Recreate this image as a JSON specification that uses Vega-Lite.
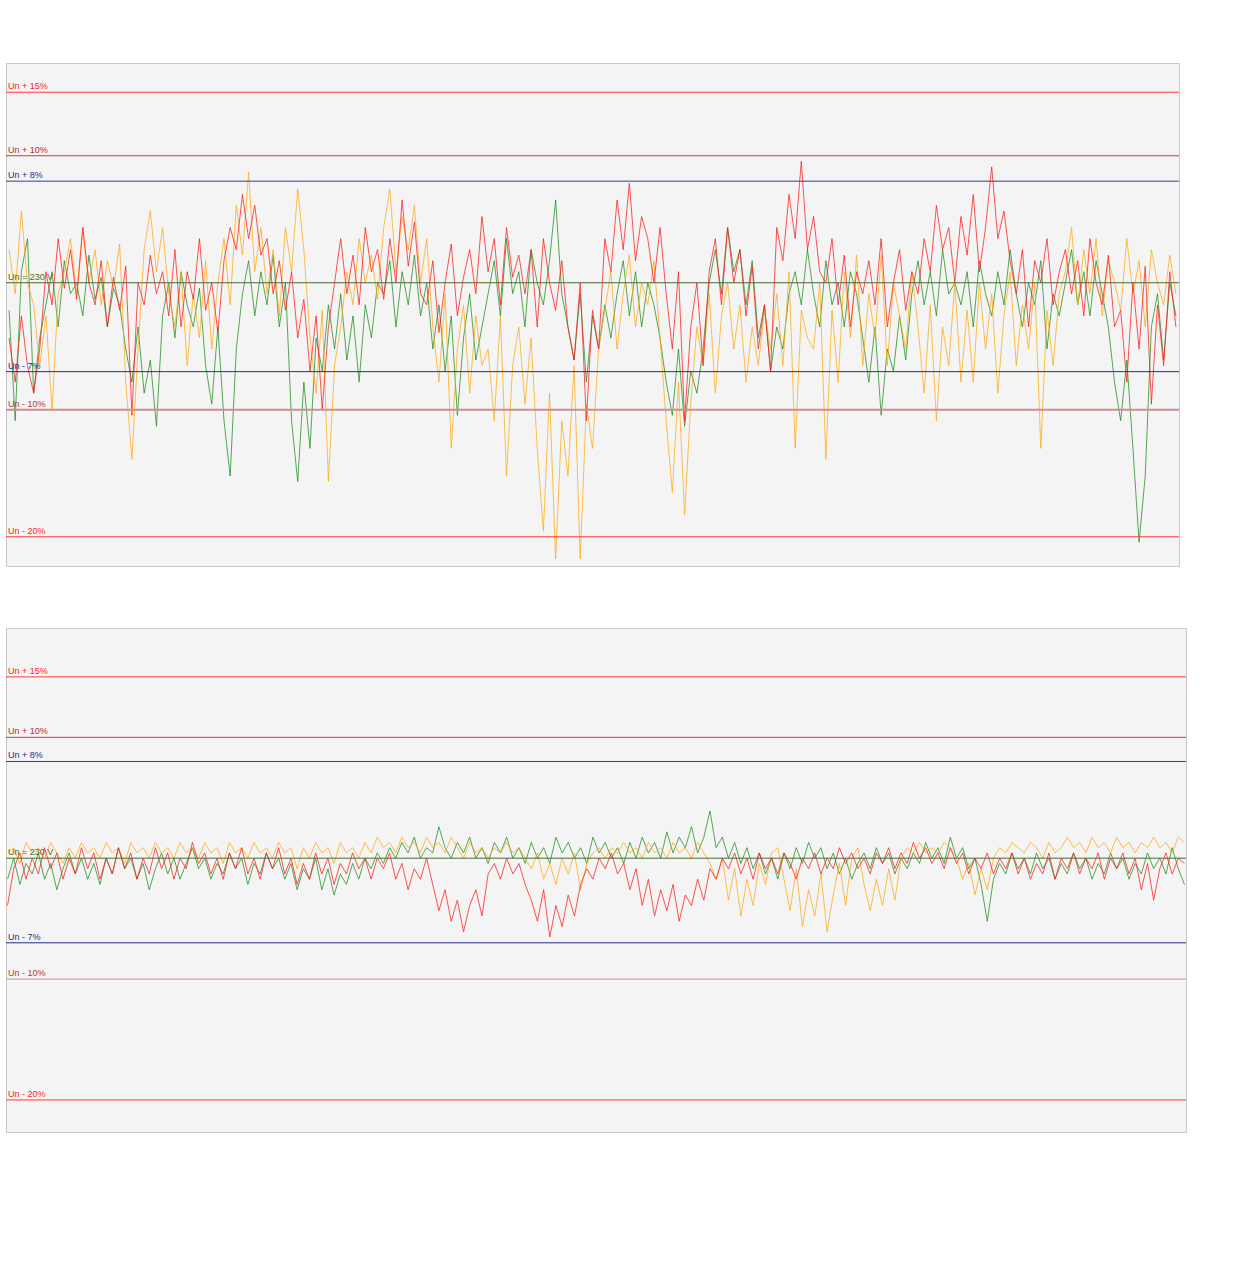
{
"$schema":"https://vega.github.io/schema/vega-lite/v6.json",
"background":"white",
"padding":{"left":4,"top":62,"right":10,"bottom":5},
"spacing":60,
"config":{"view":{"stroke":"#c8c8c8","fill":"#f4f4f4"},"font":"Liberation Sans","axis":{"labelOverlap":false,"labelFontSize":9,"labelFont":"Liberation Sans"}},
"datasets":{
"refs":[{"label":"Un + 15%","v":264.5},{"label":"Un + 10%","v":253},{"label":"Un + 8%","v":248.4},{"label":"Un = 230 V","v":230},{"label":"Un - 7%","v":213.9},{"label":"Un - 10%","v":207},{"label":"Un - 20%","v":184}],
"top":[
{"t":"2015-05-11T21:00Z","g":225,"o":236,"r":220},{"t":"2015-05-11T22:00Z","g":205,"o":228,"r":212},{"t":"2015-05-11T23:00Z","g":232,"o":243,"r":224},
{"t":"2015-05-12T00:00Z","g":238,"o":230,"r":215},{"t":"2015-05-12T01:00Z","g":210,"o":226,"r":210},{"t":"2015-05-12T02:00Z","g":220,"o":215,"r":218},{"t":"2015-05-12T03:00Z","g":226,"o":224,"r":232},{"t":"2015-05-12T04:00Z","g":232,"o":207,"r":226},{"t":"2015-05-12T05:00Z","g":222,"o":228,"r":238},{"t":"2015-05-12T06:00Z","g":234,"o":232,"r":229},{"t":"2015-05-12T07:00Z","g":228,"o":238,"r":236},{"t":"2015-05-12T08:00Z","g":230,"o":228,"r":227},{"t":"2015-05-12T09:00Z","g":224,"o":240,"r":240},{"t":"2015-05-12T10:00Z","g":235,"o":230,"r":230},{"t":"2015-05-12T11:00Z","g":227,"o":236,"r":226},{"t":"2015-05-12T12:00Z","g":231,"o":226,"r":234},{"t":"2015-05-12T13:00Z","g":222,"o":234,"r":222},{"t":"2015-05-12T14:00Z","g":229,"o":229,"r":231},{"t":"2015-05-12T15:00Z","g":226,"o":237,"r":225},{"t":"2015-05-12T16:00Z","g":218,"o":212,"r":233},{"t":"2015-05-12T17:00Z","g":212,"o":198,"r":206},{"t":"2015-05-12T18:00Z","g":222,"o":218,"r":230},{"t":"2015-05-12T19:00Z","g":210,"o":236,"r":226},{"t":"2015-05-12T20:00Z","g":216,"o":243,"r":235},{"t":"2015-05-12T21:00Z","g":204,"o":232,"r":228},{"t":"2015-05-12T22:00Z","g":224,"o":240,"r":232},{"t":"2015-05-12T23:00Z","g":230,"o":228,"r":224},
{"t":"2015-05-13T00:00Z","g":220,"o":222,"r":236},{"t":"2015-05-13T01:00Z","g":232,"o":232,"r":222},{"t":"2015-05-13T02:00Z","g":226,"o":215,"r":232},{"t":"2015-05-13T03:00Z","g":222,"o":228,"r":227},{"t":"2015-05-13T04:00Z","g":229,"o":220,"r":238},{"t":"2015-05-13T05:00Z","g":215,"o":234,"r":225},{"t":"2015-05-13T06:00Z","g":208,"o":218,"r":230},{"t":"2015-05-13T07:00Z","g":222,"o":230,"r":221},{"t":"2015-05-13T08:00Z","g":205,"o":238,"r":234},{"t":"2015-05-13T09:00Z","g":195,"o":226,"r":240},{"t":"2015-05-13T10:00Z","g":218,"o":244,"r":236},{"t":"2015-05-13T11:00Z","g":228,"o":235,"r":246},{"t":"2015-05-13T12:00Z","g":234,"o":250,"r":238},{"t":"2015-05-13T13:00Z","g":224,"o":232,"r":244},{"t":"2015-05-13T14:00Z","g":232,"o":240,"r":235},{"t":"2015-05-13T15:00Z","g":226,"o":228,"r":238},{"t":"2015-05-13T16:00Z","g":235,"o":236,"r":228},{"t":"2015-05-13T17:00Z","g":222,"o":224,"r":234},{"t":"2015-05-13T18:00Z","g":230,"o":240,"r":225},{"t":"2015-05-13T19:00Z","g":205,"o":232,"r":232},{"t":"2015-05-13T20:00Z","g":194,"o":247,"r":220},{"t":"2015-05-13T21:00Z","g":212,"o":236,"r":227},{"t":"2015-05-13T22:00Z","g":200,"o":220,"r":214},{"t":"2015-05-13T23:00Z","g":220,"o":210,"r":224},
{"t":"2015-05-14T00:00Z","g":214,"o":225,"r":207},{"t":"2015-05-14T01:00Z","g":226,"o":194,"r":222},{"t":"2015-05-14T02:00Z","g":218,"o":215,"r":230},{"t":"2015-05-14T03:00Z","g":228,"o":222,"r":238},{"t":"2015-05-14T04:00Z","g":216,"o":232,"r":228},{"t":"2015-05-14T05:00Z","g":224,"o":226,"r":235},{"t":"2015-05-14T06:00Z","g":212,"o":238,"r":226},{"t":"2015-05-14T07:00Z","g":226,"o":230,"r":240},{"t":"2015-05-14T08:00Z","g":220,"o":235,"r":232},{"t":"2015-05-14T09:00Z","g":230,"o":227,"r":236},{"t":"2015-05-14T10:00Z","g":228,"o":240,"r":227},{"t":"2015-05-14T11:00Z","g":234,"o":247,"r":238},{"t":"2015-05-14T12:00Z","g":222,"o":232,"r":230},{"t":"2015-05-14T13:00Z","g":232,"o":242,"r":245},{"t":"2015-05-14T14:00Z","g":226,"o":236,"r":233},{"t":"2015-05-14T15:00Z","g":235,"o":244,"r":241},{"t":"2015-05-14T16:00Z","g":224,"o":230,"r":228},{"t":"2015-05-14T17:00Z","g":230,"o":238,"r":226},{"t":"2015-05-14T18:00Z","g":218,"o":222,"r":234},{"t":"2015-05-14T19:00Z","g":226,"o":212,"r":221},{"t":"2015-05-14T20:00Z","g":214,"o":228,"r":230},{"t":"2015-05-14T21:00Z","g":224,"o":200,"r":237},{"t":"2015-05-14T22:00Z","g":206,"o":218,"r":224},{"t":"2015-05-14T23:00Z","g":220,"o":226,"r":231},
{"t":"2015-05-15T00:00Z","g":228,"o":210,"r":236},{"t":"2015-05-15T01:00Z","g":216,"o":224,"r":228},{"t":"2015-05-15T02:00Z","g":222,"o":215,"r":242},{"t":"2015-05-15T03:00Z","g":228,"o":218,"r":232},{"t":"2015-05-15T04:00Z","g":234,"o":205,"r":238},{"t":"2015-05-15T05:00Z","g":224,"o":224,"r":226},{"t":"2015-05-15T06:00Z","g":238,"o":195,"r":240},{"t":"2015-05-15T07:00Z","g":228,"o":215,"r":231},{"t":"2015-05-15T08:00Z","g":232,"o":222,"r":235},{"t":"2015-05-15T09:00Z","g":222,"o":208,"r":228},{"t":"2015-05-15T10:00Z","g":236,"o":220,"r":236},{"t":"2015-05-15T11:00Z","g":230,"o":200,"r":222},{"t":"2015-05-15T12:00Z","g":226,"o":185,"r":238},{"t":"2015-05-15T13:00Z","g":234,"o":210,"r":230},{"t":"2015-05-15T14:00Z","g":245,"o":180,"r":225},{"t":"2015-05-15T15:00Z","g":228,"o":205,"r":234},{"t":"2015-05-15T16:00Z","g":222,"o":195,"r":222},{"t":"2015-05-15T17:00Z","g":216,"o":215,"r":216},{"t":"2015-05-15T18:00Z","g":228,"o":180,"r":230},{"t":"2015-05-15T19:00Z","g":212,"o":208,"r":205},{"t":"2015-05-15T20:00Z","g":224,"o":200,"r":225},{"t":"2015-05-15T21:00Z","g":218,"o":218,"r":218},{"t":"2015-05-15T22:00Z","g":226,"o":225,"r":238},{"t":"2015-05-15T23:00Z","g":220,"o":232,"r":232},
{"t":"2015-05-16T00:00Z","g":228,"o":218,"r":245},{"t":"2015-05-16T01:00Z","g":234,"o":228,"r":236},{"t":"2015-05-16T02:00Z","g":224,"o":235,"r":248},{"t":"2015-05-16T03:00Z","g":232,"o":222,"r":234},{"t":"2015-05-16T04:00Z","g":222,"o":230,"r":242},{"t":"2015-05-16T05:00Z","g":230,"o":226,"r":238},{"t":"2015-05-16T06:00Z","g":226,"o":234,"r":230},{"t":"2015-05-16T07:00Z","g":220,"o":220,"r":240},{"t":"2015-05-16T08:00Z","g":212,"o":205,"r":228},{"t":"2015-05-16T09:00Z","g":206,"o":192,"r":218},{"t":"2015-05-16T10:00Z","g":218,"o":212,"r":232},{"t":"2015-05-16T11:00Z","g":204,"o":188,"r":205},{"t":"2015-05-16T12:00Z","g":214,"o":208,"r":222},{"t":"2015-05-16T13:00Z","g":210,"o":222,"r":230},{"t":"2015-05-16T14:00Z","g":218,"o":215,"r":215},{"t":"2015-05-16T15:00Z","g":230,"o":228,"r":232},{"t":"2015-05-16T16:00Z","g":236,"o":210,"r":238},{"t":"2015-05-16T17:00Z","g":228,"o":224,"r":226},{"t":"2015-05-16T18:00Z","g":240,"o":230,"r":240},{"t":"2015-05-16T19:00Z","g":232,"o":218,"r":230},{"t":"2015-05-16T20:00Z","g":236,"o":226,"r":236},{"t":"2015-05-16T21:00Z","g":226,"o":212,"r":224},{"t":"2015-05-16T22:00Z","g":234,"o":222,"r":233},{"t":"2015-05-16T23:00Z","g":220,"o":215,"r":218},
{"t":"2015-05-17T00:00Z","g":226,"o":225,"r":226},{"t":"2015-05-17T01:00Z","g":214,"o":218,"r":214},{"t":"2015-05-17T02:00Z","g":222,"o":228,"r":240},{"t":"2015-05-17T03:00Z","g":218,"o":215,"r":234},{"t":"2015-05-17T04:00Z","g":228,"o":232,"r":246},{"t":"2015-05-17T05:00Z","g":232,"o":200,"r":238},{"t":"2015-05-17T06:00Z","g":226,"o":225,"r":252},{"t":"2015-05-17T07:00Z","g":236,"o":220,"r":236},{"t":"2015-05-17T08:00Z","g":228,"o":218,"r":242},{"t":"2015-05-17T09:00Z","g":222,"o":230,"r":232},{"t":"2015-05-17T10:00Z","g":234,"o":198,"r":230},{"t":"2015-05-17T11:00Z","g":226,"o":225,"r":238},{"t":"2015-05-17T12:00Z","g":230,"o":212,"r":226},{"t":"2015-05-17T13:00Z","g":222,"o":232,"r":235},{"t":"2015-05-17T14:00Z","g":232,"o":220,"r":222},{"t":"2015-05-17T15:00Z","g":228,"o":235,"r":232},{"t":"2015-05-17T16:00Z","g":220,"o":215,"r":228},{"t":"2015-05-17T17:00Z","g":212,"o":228,"r":234},{"t":"2015-05-17T18:00Z","g":222,"o":220,"r":226},{"t":"2015-05-17T19:00Z","g":206,"o":235,"r":238},{"t":"2015-05-17T20:00Z","g":218,"o":215,"r":222},{"t":"2015-05-17T21:00Z","g":214,"o":230,"r":230},{"t":"2015-05-17T22:00Z","g":224,"o":224,"r":236},{"t":"2015-05-17T23:00Z","g":216,"o":218,"r":225},
{"t":"2015-05-18T00:00Z","g":228,"o":232,"r":232},{"t":"2015-05-18T01:00Z","g":234,"o":222,"r":228},{"t":"2015-05-18T02:00Z","g":226,"o":210,"r":238},{"t":"2015-05-18T03:00Z","g":232,"o":226,"r":232},{"t":"2015-05-18T04:00Z","g":224,"o":205,"r":244},{"t":"2015-05-18T05:00Z","g":236,"o":222,"r":236},{"t":"2015-05-18T06:00Z","g":228,"o":215,"r":240},{"t":"2015-05-18T07:00Z","g":230,"o":230,"r":230},{"t":"2015-05-18T08:00Z","g":226,"o":212,"r":242},{"t":"2015-05-18T09:00Z","g":232,"o":225,"r":235},{"t":"2015-05-18T10:00Z","g":222,"o":212,"r":246},{"t":"2015-05-18T11:00Z","g":234,"o":230,"r":232},{"t":"2015-05-18T12:00Z","g":228,"o":218,"r":240},{"t":"2015-05-18T13:00Z","g":224,"o":228,"r":251},{"t":"2015-05-18T14:00Z","g":232,"o":210,"r":238},{"t":"2015-05-18T15:00Z","g":226,"o":224,"r":243},{"t":"2015-05-18T16:00Z","g":236,"o":232,"r":234},{"t":"2015-05-18T17:00Z","g":228,"o":215,"r":228},{"t":"2015-05-18T18:00Z","g":222,"o":226,"r":236},{"t":"2015-05-18T19:00Z","g":230,"o":218,"r":222},{"t":"2015-05-18T20:00Z","g":226,"o":230,"r":234},{"t":"2015-05-18T21:00Z","g":234,"o":200,"r":230},{"t":"2015-05-18T22:00Z","g":218,"o":225,"r":238},{"t":"2015-05-18T23:00Z","g":228,"o":215,"r":226},
{"t":"2015-05-19T00:00Z","g":224,"o":228,"r":232},{"t":"2015-05-19T01:00Z","g":230,"o":232,"r":236},{"t":"2015-05-19T02:00Z","g":236,"o":240,"r":228},{"t":"2015-05-19T03:00Z","g":226,"o":226,"r":234},{"t":"2015-05-19T04:00Z","g":232,"o":236,"r":224},{"t":"2015-05-19T05:00Z","g":224,"o":228,"r":238},{"t":"2015-05-19T06:00Z","g":234,"o":238,"r":230},{"t":"2015-05-19T07:00Z","g":228,"o":224,"r":226},{"t":"2015-05-19T08:00Z","g":222,"o":234,"r":235},{"t":"2015-05-19T09:00Z","g":212,"o":230,"r":222},{"t":"2015-05-19T10:00Z","g":205,"o":225,"r":225},{"t":"2015-05-19T11:00Z","g":216,"o":238,"r":212},{"t":"2015-05-19T12:00Z","g":200,"o":228,"r":230},{"t":"2015-05-19T13:00Z","g":183,"o":234,"r":218},{"t":"2015-05-19T14:00Z","g":195,"o":222,"r":233},{"t":"2015-05-19T15:00Z","g":222,"o":236,"r":208},{"t":"2015-05-19T16:00Z","g":228,"o":230,"r":226},{"t":"2015-05-19T17:00Z","g":216,"o":226,"r":215},{"t":"2015-05-19T18:00Z","g":230,"o":235,"r":232},{"t":"2015-05-19T19:00Z","g":224,"o":228,"r":222}
],
"bot":[
{"t":"2015-10-25T21:00Z","g":226,"o":231,"r":221},{"t":"2015-10-25T22:00Z","g":230,"o":232,"r":228},{"t":"2015-10-25T23:00Z","g":225,"o":229,"r":231},
{"t":"2015-10-26T00:00Z","g":229,"o":233,"r":226},{"t":"2015-10-26T01:00Z","g":227,"o":231,"r":230},{"t":"2015-10-26T02:00Z","g":231,"o":232,"r":227},{"t":"2015-10-26T03:00Z","g":226,"o":230,"r":232},{"t":"2015-10-26T04:00Z","g":229,"o":233,"r":228},{"t":"2015-10-26T05:00Z","g":224,"o":231,"r":231},{"t":"2015-10-26T06:00Z","g":228,"o":229,"r":226},{"t":"2015-10-26T07:00Z","g":231,"o":232,"r":230},{"t":"2015-10-26T08:00Z","g":227,"o":230,"r":227},{"t":"2015-10-26T09:00Z","g":230,"o":233,"r":232},{"t":"2015-10-26T10:00Z","g":226,"o":231,"r":228},{"t":"2015-10-26T11:00Z","g":229,"o":232,"r":231},{"t":"2015-10-26T12:00Z","g":225,"o":230,"r":226},{"t":"2015-10-26T13:00Z","g":230,"o":233,"r":230},{"t":"2015-10-26T14:00Z","g":227,"o":231,"r":227},{"t":"2015-10-26T15:00Z","g":232,"o":232,"r":232},{"t":"2015-10-26T16:00Z","g":228,"o":229,"r":228},{"t":"2015-10-26T17:00Z","g":230,"o":233,"r":231},{"t":"2015-10-26T18:00Z","g":226,"o":231,"r":226},{"t":"2015-10-26T19:00Z","g":229,"o":232,"r":230},{"t":"2015-10-26T20:00Z","g":224,"o":230,"r":227},{"t":"2015-10-26T21:00Z","g":228,"o":233,"r":232},{"t":"2015-10-26T22:00Z","g":231,"o":231,"r":228},{"t":"2015-10-26T23:00Z","g":227,"o":232,"r":231},
{"t":"2015-10-27T00:00Z","g":230,"o":230,"r":226},{"t":"2015-10-27T01:00Z","g":226,"o":233,"r":230},{"t":"2015-10-27T02:00Z","g":229,"o":231,"r":228},{"t":"2015-10-27T03:00Z","g":232,"o":232,"r":233},{"t":"2015-10-27T04:00Z","g":228,"o":230,"r":229},{"t":"2015-10-27T05:00Z","g":230,"o":233,"r":231},{"t":"2015-10-27T06:00Z","g":226,"o":231,"r":227},{"t":"2015-10-27T07:00Z","g":229,"o":232,"r":230},{"t":"2015-10-27T08:00Z","g":227,"o":229,"r":226},{"t":"2015-10-27T09:00Z","g":231,"o":233,"r":231},{"t":"2015-10-27T10:00Z","g":228,"o":231,"r":228},{"t":"2015-10-27T11:00Z","g":230,"o":232,"r":232},{"t":"2015-10-27T12:00Z","g":225,"o":230,"r":227},{"t":"2015-10-27T13:00Z","g":229,"o":233,"r":230},{"t":"2015-10-27T14:00Z","g":227,"o":231,"r":226},{"t":"2015-10-27T15:00Z","g":231,"o":232,"r":231},{"t":"2015-10-27T16:00Z","g":228,"o":230,"r":228},{"t":"2015-10-27T17:00Z","g":230,"o":233,"r":232},{"t":"2015-10-27T18:00Z","g":226,"o":231,"r":227},{"t":"2015-10-27T19:00Z","g":229,"o":232,"r":230},{"t":"2015-10-27T20:00Z","g":224,"o":228,"r":225},{"t":"2015-10-27T21:00Z","g":228,"o":232,"r":229},{"t":"2015-10-27T22:00Z","g":226,"o":230,"r":226},{"t":"2015-10-27T23:00Z","g":230,"o":233,"r":231},
{"t":"2015-10-28T00:00Z","g":224,"o":231,"r":227},{"t":"2015-10-28T01:00Z","g":228,"o":232,"r":230},{"t":"2015-10-28T02:00Z","g":223,"o":229,"r":225},{"t":"2015-10-28T03:00Z","g":227,"o":233,"r":229},{"t":"2015-10-28T04:00Z","g":225,"o":231,"r":227},{"t":"2015-10-28T05:00Z","g":229,"o":232,"r":231},{"t":"2015-10-28T06:00Z","g":226,"o":230,"r":228},{"t":"2015-10-28T07:00Z","g":230,"o":233,"r":230},{"t":"2015-10-28T08:00Z","g":228,"o":231,"r":226},{"t":"2015-10-28T09:00Z","g":231,"o":234,"r":230},{"t":"2015-10-28T10:00Z","g":229,"o":232,"r":228},{"t":"2015-10-28T11:00Z","g":232,"o":233,"r":231},{"t":"2015-10-28T12:00Z","g":230,"o":231,"r":226},{"t":"2015-10-28T13:00Z","g":233,"o":234,"r":229},{"t":"2015-10-28T14:00Z","g":231,"o":232,"r":224},{"t":"2015-10-28T15:00Z","g":234,"o":233,"r":228},{"t":"2015-10-28T16:00Z","g":230,"o":231,"r":226},{"t":"2015-10-28T17:00Z","g":232,"o":234,"r":230},{"t":"2015-10-28T18:00Z","g":231,"o":232,"r":225},{"t":"2015-10-28T19:00Z","g":236,"o":233,"r":220},{"t":"2015-10-28T20:00Z","g":232,"o":231,"r":224},{"t":"2015-10-28T21:00Z","g":230,"o":234,"r":218},{"t":"2015-10-28T22:00Z","g":233,"o":232,"r":222},{"t":"2015-10-28T23:00Z","g":231,"o":230,"r":216},
{"t":"2015-10-29T00:00Z","g":234,"o":233,"r":221},{"t":"2015-10-29T01:00Z","g":230,"o":231,"r":224},{"t":"2015-10-29T02:00Z","g":232,"o":232,"r":219},{"t":"2015-10-29T03:00Z","g":229,"o":230,"r":227},{"t":"2015-10-29T04:00Z","g":233,"o":232,"r":229},{"t":"2015-10-29T05:00Z","g":231,"o":231,"r":226},{"t":"2015-10-29T06:00Z","g":234,"o":233,"r":230},{"t":"2015-10-29T07:00Z","g":230,"o":231,"r":227},{"t":"2015-10-29T08:00Z","g":232,"o":232,"r":229},{"t":"2015-10-29T09:00Z","g":229,"o":230,"r":225},{"t":"2015-10-29T10:00Z","g":233,"o":228,"r":222},{"t":"2015-10-29T11:00Z","g":230,"o":231,"r":218},{"t":"2015-10-29T12:00Z","g":232,"o":226,"r":224},{"t":"2015-10-29T13:00Z","g":229,"o":229,"r":215},{"t":"2015-10-29T14:00Z","g":234,"o":225,"r":221},{"t":"2015-10-29T15:00Z","g":231,"o":230,"r":217},{"t":"2015-10-29T16:00Z","g":233,"o":227,"r":223},{"t":"2015-10-29T17:00Z","g":230,"o":231,"r":219},{"t":"2015-10-29T18:00Z","g":232,"o":224,"r":225},{"t":"2015-10-29T19:00Z","g":229,"o":229,"r":228},{"t":"2015-10-29T20:00Z","g":234,"o":231,"r":226},{"t":"2015-10-29T21:00Z","g":231,"o":232,"r":230},{"t":"2015-10-29T22:00Z","g":233,"o":230,"r":228},{"t":"2015-10-29T23:00Z","g":230,"o":232,"r":231},
{"t":"2015-10-30T00:00Z","g":232,"o":231,"r":227},{"t":"2015-10-30T01:00Z","g":229,"o":233,"r":229},{"t":"2015-10-30T02:00Z","g":233,"o":231,"r":224},{"t":"2015-10-30T03:00Z","g":230,"o":232,"r":228},{"t":"2015-10-30T04:00Z","g":234,"o":230,"r":221},{"t":"2015-10-30T05:00Z","g":231,"o":233,"r":226},{"t":"2015-10-30T06:00Z","g":233,"o":231,"r":219},{"t":"2015-10-30T07:00Z","g":230,"o":232,"r":224},{"t":"2015-10-30T08:00Z","g":235,"o":230,"r":220},{"t":"2015-10-30T09:00Z","g":231,"o":233,"r":225},{"t":"2015-10-30T10:00Z","g":234,"o":231,"r":218},{"t":"2015-10-30T11:00Z","g":232,"o":232,"r":223},{"t":"2015-10-30T12:00Z","g":236,"o":230,"r":221},{"t":"2015-10-30T13:00Z","g":231,"o":233,"r":226},{"t":"2015-10-30T14:00Z","g":234,"o":231,"r":222},{"t":"2015-10-30T15:00Z","g":239,"o":229,"r":228},{"t":"2015-10-30T16:00Z","g":232,"o":226,"r":226},{"t":"2015-10-30T17:00Z","g":234,"o":230,"r":230},{"t":"2015-10-30T18:00Z","g":230,"o":222,"r":228},{"t":"2015-10-30T19:00Z","g":233,"o":228,"r":231},{"t":"2015-10-30T20:00Z","g":229,"o":219,"r":227},{"t":"2015-10-30T21:00Z","g":232,"o":226,"r":230},{"t":"2015-10-30T22:00Z","g":228,"o":221,"r":226},{"t":"2015-10-30T23:00Z","g":231,"o":229,"r":231},
{"t":"2015-10-31T00:00Z","g":227,"o":225,"r":228},{"t":"2015-10-31T01:00Z","g":230,"o":231,"r":230},{"t":"2015-10-31T02:00Z","g":226,"o":232,"r":227},{"t":"2015-10-31T03:00Z","g":231,"o":226,"r":231},{"t":"2015-10-31T04:00Z","g":228,"o":220,"r":229},{"t":"2015-10-31T05:00Z","g":232,"o":228,"r":226},{"t":"2015-10-31T06:00Z","g":229,"o":217,"r":230},{"t":"2015-10-31T07:00Z","g":233,"o":224,"r":228},{"t":"2015-10-31T08:00Z","g":230,"o":219,"r":231},{"t":"2015-10-31T09:00Z","g":232,"o":227,"r":227},{"t":"2015-10-31T10:00Z","g":228,"o":216,"r":230},{"t":"2015-10-31T11:00Z","g":231,"o":223,"r":228},{"t":"2015-10-31T12:00Z","g":227,"o":229,"r":232},{"t":"2015-10-31T13:00Z","g":230,"o":221,"r":229},{"t":"2015-10-31T14:00Z","g":226,"o":230,"r":231},{"t":"2015-10-31T15:00Z","g":229,"o":232,"r":228},{"t":"2015-10-31T16:00Z","g":231,"o":225,"r":230},{"t":"2015-10-31T17:00Z","g":228,"o":220,"r":227},{"t":"2015-10-31T18:00Z","g":232,"o":226,"r":231},{"t":"2015-10-31T19:00Z","g":229,"o":221,"r":229},{"t":"2015-10-31T20:00Z","g":231,"o":228,"r":232},{"t":"2015-10-31T21:00Z","g":227,"o":222,"r":228},{"t":"2015-10-31T22:00Z","g":230,"o":230,"r":231},{"t":"2015-10-31T23:00Z","g":228,"o":232,"r":229},
{"t":"2015-11-01T00:00Z","g":231,"o":231,"r":233},{"t":"2015-11-01T01:00Z","g":229,"o":233,"r":230},{"t":"2015-11-01T02:00Z","g":233,"o":231,"r":232},{"t":"2015-11-01T03:00Z","g":230,"o":232,"r":229},{"t":"2015-11-01T04:00Z","g":232,"o":231,"r":231},{"t":"2015-11-01T05:00Z","g":229,"o":233,"r":228},{"t":"2015-11-01T06:00Z","g":234,"o":232,"r":232},{"t":"2015-11-01T07:00Z","g":230,"o":230,"r":229},{"t":"2015-11-01T08:00Z","g":232,"o":226,"r":231},{"t":"2015-11-01T09:00Z","g":228,"o":229,"r":227},{"t":"2015-11-01T10:00Z","g":230,"o":223,"r":230},{"t":"2015-11-01T11:00Z","g":225,"o":228,"r":228},{"t":"2015-11-01T12:00Z","g":218,"o":224,"r":231},{"t":"2015-11-01T13:00Z","g":226,"o":230,"r":227},{"t":"2015-11-01T14:00Z","g":229,"o":232,"r":230},{"t":"2015-11-01T15:00Z","g":227,"o":231,"r":228},{"t":"2015-11-01T16:00Z","g":231,"o":233,"r":231},{"t":"2015-11-01T17:00Z","g":228,"o":232,"r":227},{"t":"2015-11-01T18:00Z","g":230,"o":231,"r":230},{"t":"2015-11-01T19:00Z","g":227,"o":233,"r":226},{"t":"2015-11-01T20:00Z","g":231,"o":232,"r":229},{"t":"2015-11-01T21:00Z","g":228,"o":230,"r":227},{"t":"2015-11-01T22:00Z","g":230,"o":233,"r":231},{"t":"2015-11-01T23:00Z","g":226,"o":231,"r":226},
{"t":"2015-11-02T00:00Z","g":229,"o":232,"r":230},{"t":"2015-11-02T01:00Z","g":227,"o":234,"r":228},{"t":"2015-11-02T02:00Z","g":231,"o":232,"r":231},{"t":"2015-11-02T03:00Z","g":228,"o":233,"r":227},{"t":"2015-11-02T04:00Z","g":230,"o":231,"r":230},{"t":"2015-11-02T05:00Z","g":226,"o":234,"r":228},{"t":"2015-11-02T06:00Z","g":229,"o":232,"r":231},{"t":"2015-11-02T07:00Z","g":227,"o":233,"r":226},{"t":"2015-11-02T08:00Z","g":231,"o":231,"r":230},{"t":"2015-11-02T09:00Z","g":228,"o":234,"r":228},{"t":"2015-11-02T10:00Z","g":230,"o":232,"r":231},{"t":"2015-11-02T11:00Z","g":226,"o":233,"r":227},{"t":"2015-11-02T12:00Z","g":229,"o":231,"r":230},{"t":"2015-11-02T13:00Z","g":227,"o":233,"r":224},{"t":"2015-11-02T14:00Z","g":231,"o":232,"r":229},{"t":"2015-11-02T15:00Z","g":228,"o":234,"r":222},{"t":"2015-11-02T16:00Z","g":230,"o":232,"r":228},{"t":"2015-11-02T17:00Z","g":227,"o":233,"r":231},{"t":"2015-11-02T18:00Z","g":232,"o":231,"r":227},{"t":"2015-11-02T19:00Z","g":228,"o":234,"r":230},{"t":"2015-11-02T20:00Z","g":225,"o":233,"r":229}
]
},
"vconcat":[
{
"width":1173,"height":503,
"data":{"name":"top"},
"layer":[
{"mark":{"type":"line","stroke":"#1e8c1e","strokeWidth":1,"opacity":0.75},
"encoding":{
"x":{"field":"t","type":"temporal","scale":{"type":"utc","domain":[{"year":2015,"month":5,"date":11,"hours":20,"minutes":30,"utc":true},{"year":2015,"month":5,"date":19,"hours":19,"minutes":30,"utc":true}]},
"axis":{"title":null,"format":"%m.%d %H:%M","formatType":"utc","labelExpr":"utcFormat(datum.value, '%m.%d %H:%M')","labelAngle":90,"labelFontSize":9,"labelFont":"Liberation Sans","labelColor":"#222","tickColor":"#000","tickSize":5,"domainColor":"#000","domainWidth":2,"grid":false,"labelPadding":3,"labelOverlap":false,"labelFlush":false,"labelBound":false,
"values":[{"year":2015,"month":5,"date":11,"hours":21,"utc":true},{"year":2015,"month":5,"date":11,"hours":23,"utc":true},
{"year":2015,"month":5,"date":12,"hours":1,"utc":true},{"year":2015,"month":5,"date":12,"hours":3,"utc":true},{"year":2015,"month":5,"date":12,"hours":5,"utc":true},{"year":2015,"month":5,"date":12,"hours":7,"utc":true},{"year":2015,"month":5,"date":12,"hours":9,"utc":true},{"year":2015,"month":5,"date":12,"hours":11,"utc":true},{"year":2015,"month":5,"date":12,"hours":13,"utc":true},{"year":2015,"month":5,"date":12,"hours":15,"utc":true},{"year":2015,"month":5,"date":12,"hours":17,"utc":true},{"year":2015,"month":5,"date":12,"hours":19,"utc":true},{"year":2015,"month":5,"date":12,"hours":21,"utc":true},{"year":2015,"month":5,"date":12,"hours":23,"utc":true},
{"year":2015,"month":5,"date":13,"hours":1,"utc":true},{"year":2015,"month":5,"date":13,"hours":3,"utc":true},{"year":2015,"month":5,"date":13,"hours":5,"utc":true},{"year":2015,"month":5,"date":13,"hours":7,"utc":true},{"year":2015,"month":5,"date":13,"hours":9,"utc":true},{"year":2015,"month":5,"date":13,"hours":11,"utc":true},{"year":2015,"month":5,"date":13,"hours":13,"utc":true},{"year":2015,"month":5,"date":13,"hours":15,"utc":true},{"year":2015,"month":5,"date":13,"hours":17,"utc":true},{"year":2015,"month":5,"date":13,"hours":19,"utc":true},{"year":2015,"month":5,"date":13,"hours":21,"utc":true},{"year":2015,"month":5,"date":13,"hours":23,"utc":true},
{"year":2015,"month":5,"date":14,"hours":1,"utc":true},{"year":2015,"month":5,"date":14,"hours":3,"utc":true},{"year":2015,"month":5,"date":14,"hours":5,"utc":true},{"year":2015,"month":5,"date":14,"hours":7,"utc":true},{"year":2015,"month":5,"date":14,"hours":9,"utc":true},{"year":2015,"month":5,"date":14,"hours":11,"utc":true},{"year":2015,"month":5,"date":14,"hours":13,"utc":true},{"year":2015,"month":5,"date":14,"hours":15,"utc":true},{"year":2015,"month":5,"date":14,"hours":17,"utc":true},{"year":2015,"month":5,"date":14,"hours":19,"utc":true},{"year":2015,"month":5,"date":14,"hours":21,"utc":true},{"year":2015,"month":5,"date":14,"hours":23,"utc":true},
{"year":2015,"month":5,"date":15,"hours":1,"utc":true},{"year":2015,"month":5,"date":15,"hours":3,"utc":true},{"year":2015,"month":5,"date":15,"hours":5,"utc":true},{"year":2015,"month":5,"date":15,"hours":7,"utc":true},{"year":2015,"month":5,"date":15,"hours":9,"utc":true},{"year":2015,"month":5,"date":15,"hours":11,"utc":true},{"year":2015,"month":5,"date":15,"hours":13,"utc":true},{"year":2015,"month":5,"date":15,"hours":15,"utc":true},{"year":2015,"month":5,"date":15,"hours":17,"utc":true},{"year":2015,"month":5,"date":15,"hours":19,"utc":true},{"year":2015,"month":5,"date":15,"hours":21,"utc":true},{"year":2015,"month":5,"date":15,"hours":23,"utc":true},
{"year":2015,"month":5,"date":16,"hours":1,"utc":true},{"year":2015,"month":5,"date":16,"hours":3,"utc":true},{"year":2015,"month":5,"date":16,"hours":5,"utc":true},{"year":2015,"month":5,"date":16,"hours":7,"utc":true},{"year":2015,"month":5,"date":16,"hours":9,"utc":true},{"year":2015,"month":5,"date":16,"hours":11,"utc":true},{"year":2015,"month":5,"date":16,"hours":13,"utc":true},{"year":2015,"month":5,"date":16,"hours":15,"utc":true},{"year":2015,"month":5,"date":16,"hours":17,"utc":true},{"year":2015,"month":5,"date":16,"hours":19,"utc":true},{"year":2015,"month":5,"date":16,"hours":21,"utc":true},{"year":2015,"month":5,"date":16,"hours":23,"utc":true},
{"year":2015,"month":5,"date":17,"hours":1,"utc":true},{"year":2015,"month":5,"date":17,"hours":3,"utc":true},{"year":2015,"month":5,"date":17,"hours":5,"utc":true},{"year":2015,"month":5,"date":17,"hours":7,"utc":true},{"year":2015,"month":5,"date":17,"hours":9,"utc":true},{"year":2015,"month":5,"date":17,"hours":11,"utc":true},{"year":2015,"month":5,"date":17,"hours":13,"utc":true},{"year":2015,"month":5,"date":17,"hours":15,"utc":true},{"year":2015,"month":5,"date":17,"hours":17,"utc":true},{"year":2015,"month":5,"date":17,"hours":19,"utc":true},{"year":2015,"month":5,"date":17,"hours":21,"utc":true},{"year":2015,"month":5,"date":17,"hours":23,"utc":true},
{"year":2015,"month":5,"date":18,"hours":1,"utc":true},{"year":2015,"month":5,"date":18,"hours":3,"utc":true},{"year":2015,"month":5,"date":18,"hours":5,"utc":true},{"year":2015,"month":5,"date":18,"hours":7,"utc":true},{"year":2015,"month":5,"date":18,"hours":9,"utc":true},{"year":2015,"month":5,"date":18,"hours":11,"utc":true},{"year":2015,"month":5,"date":18,"hours":13,"utc":true},{"year":2015,"month":5,"date":18,"hours":15,"utc":true},{"year":2015,"month":5,"date":18,"hours":17,"utc":true},{"year":2015,"month":5,"date":18,"hours":19,"utc":true},{"year":2015,"month":5,"date":18,"hours":21,"utc":true},{"year":2015,"month":5,"date":18,"hours":23,"utc":true},
{"year":2015,"month":5,"date":19,"hours":1,"utc":true},{"year":2015,"month":5,"date":19,"hours":3,"utc":true},{"year":2015,"month":5,"date":19,"hours":5,"utc":true},{"year":2015,"month":5,"date":19,"hours":7,"utc":true},{"year":2015,"month":5,"date":19,"hours":9,"utc":true},{"year":2015,"month":5,"date":19,"hours":11,"utc":true},{"year":2015,"month":5,"date":19,"hours":13,"utc":true},{"year":2015,"month":5,"date":19,"hours":15,"utc":true},{"year":2015,"month":5,"date":19,"hours":17,"utc":true},{"year":2015,"month":5,"date":19,"hours":19,"utc":true}]}},
"y":{"field":"g","type":"quantitative","scale":{"domain":[178.7,269.8],"nice":false,"zero":false},
"axis":{"title":"Fázisfeszültség (V)","titleFontSize":9,"titleFont":"Liberation Sans","titleFontWeight":"normal","titleColor":"#333","titlePadding":6,"values":[180,185,190,195,200,205,210,215,220,225,230,235,240,245,250,255,260,265],"tickCount":19,"labelOverlap":false,"labelFontSize":9,"labelFont":"Liberation Sans","labelColor":"#222","tickSize":5,"tickColor":"#000","domainColor":"#000","domainWidth":2,"grid":true,"gridColor":"#dcdcdc","labelPadding":3}}}},
{"mark":{"type":"line","stroke":"#ffaa10","strokeWidth":1,"opacity":0.75},
"encoding":{"x":{"field":"t","type":"temporal","axis":null},"y":{"field":"o","type":"quantitative","axis":null}}},
{"mark":{"type":"line","stroke":"#ff1a1a","strokeWidth":1,"opacity":0.75},
"encoding":{"x":{"field":"t","type":"temporal","axis":null},"y":{"field":"r","type":"quantitative","axis":null}}},
{"data":{"name":"refs"},"mark":{"type":"rule"},
"encoding":{"y":{"field":"v","type":"quantitative","axis":null},
"stroke":{"field":"label","type":"nominal","scale":{"domain":["Un + 15%","Un + 10%","Un + 8%","Un = 230 V","Un - 7%","Un - 10%","Un - 20%"],"range":["#ff3b3b","#b04848","#3a3a9a","#4a6a30","#2a2a8a","#c99090","#ff3b3b"]},"legend":null},
"strokeWidth":{"condition":{"test":"datum.label === 'Un - 10%'","value":2},"value":1}}},
{"data":{"name":"refs"},"mark":{"type":"text","align":"left","baseline":"bottom","dx":2,"dy":-1,"fontSize":9,"font":"Liberation Sans"},
"encoding":{"x":{"datum":{"year":2015,"month":5,"date":11,"hours":20,"minutes":30,"utc":true},"type":"temporal","axis":null},
"y":{"field":"v","type":"quantitative","axis":null},"text":{"field":"label","type":"nominal"},
"fill":{"field":"label","type":"nominal","scale":{"domain":["Un + 15%","Un + 10%","Un + 8%","Un = 230 V","Un - 7%","Un - 10%","Un - 20%"],"range":["#ff2020","#b03030","#2a2a90","#5a6a10","#2a2a90","#b03a3a","#ff2020"]},"legend":null}}}
]
},
{
"width":1180,"height":504,
"data":{"name":"bot"},
"layer":[
{"mark":{"type":"line","stroke":"#1e8c1e","strokeWidth":1,"opacity":0.75},
"encoding":{
"x":{"field":"t","type":"temporal","scale":{"type":"utc","domain":[{"year":2015,"month":10,"date":25,"hours":20,"minutes":45,"utc":true},{"year":2015,"month":11,"date":2,"hours":20,"minutes":15,"utc":true}]},
"axis":{"title":null,"format":"%m.%d %H:%M","formatType":"utc","labelExpr":"utcFormat(datum.value, '%m.%d %H:%M')","labelAngle":90,"labelFontSize":9,"labelFont":"Liberation Sans","labelColor":"#222","tickColor":"#000","tickSize":5,"domainColor":"#000","domainWidth":2,"grid":false,"labelPadding":3,"labelOverlap":false,"labelFlush":false,"labelBound":false,
"values":[{"year":2015,"month":10,"date":25,"hours":22,"utc":true},
{"year":2015,"month":10,"date":26,"hours":0,"utc":true},{"year":2015,"month":10,"date":26,"hours":2,"utc":true},{"year":2015,"month":10,"date":26,"hours":4,"utc":true},{"year":2015,"month":10,"date":26,"hours":6,"utc":true},{"year":2015,"month":10,"date":26,"hours":8,"utc":true},{"year":2015,"month":10,"date":26,"hours":10,"utc":true},{"year":2015,"month":10,"date":26,"hours":12,"utc":true},{"year":2015,"month":10,"date":26,"hours":14,"utc":true},{"year":2015,"month":10,"date":26,"hours":16,"utc":true},{"year":2015,"month":10,"date":26,"hours":18,"utc":true},{"year":2015,"month":10,"date":26,"hours":20,"utc":true},{"year":2015,"month":10,"date":26,"hours":22,"utc":true},
{"year":2015,"month":10,"date":27,"hours":0,"utc":true},{"year":2015,"month":10,"date":27,"hours":2,"utc":true},{"year":2015,"month":10,"date":27,"hours":4,"utc":true},{"year":2015,"month":10,"date":27,"hours":6,"utc":true},{"year":2015,"month":10,"date":27,"hours":8,"utc":true},{"year":2015,"month":10,"date":27,"hours":10,"utc":true},{"year":2015,"month":10,"date":27,"hours":12,"utc":true},{"year":2015,"month":10,"date":27,"hours":14,"utc":true},{"year":2015,"month":10,"date":27,"hours":16,"utc":true},{"year":2015,"month":10,"date":27,"hours":18,"utc":true},{"year":2015,"month":10,"date":27,"hours":20,"utc":true},{"year":2015,"month":10,"date":27,"hours":22,"utc":true},
{"year":2015,"month":10,"date":28,"hours":0,"utc":true},{"year":2015,"month":10,"date":28,"hours":2,"utc":true},{"year":2015,"month":10,"date":28,"hours":4,"utc":true},{"year":2015,"month":10,"date":28,"hours":6,"utc":true},{"year":2015,"month":10,"date":28,"hours":8,"utc":true},{"year":2015,"month":10,"date":28,"hours":10,"utc":true},{"year":2015,"month":10,"date":28,"hours":12,"utc":true},{"year":2015,"month":10,"date":28,"hours":14,"utc":true},{"year":2015,"month":10,"date":28,"hours":16,"utc":true},{"year":2015,"month":10,"date":28,"hours":18,"utc":true},{"year":2015,"month":10,"date":28,"hours":20,"utc":true},{"year":2015,"month":10,"date":28,"hours":22,"utc":true},
{"year":2015,"month":10,"date":29,"hours":0,"utc":true},{"year":2015,"month":10,"date":29,"hours":2,"utc":true},{"year":2015,"month":10,"date":29,"hours":4,"utc":true},{"year":2015,"month":10,"date":29,"hours":6,"utc":true},{"year":2015,"month":10,"date":29,"hours":8,"utc":true},{"year":2015,"month":10,"date":29,"hours":10,"utc":true},{"year":2015,"month":10,"date":29,"hours":12,"utc":true},{"year":2015,"month":10,"date":29,"hours":14,"utc":true},{"year":2015,"month":10,"date":29,"hours":16,"utc":true},{"year":2015,"month":10,"date":29,"hours":18,"utc":true},{"year":2015,"month":10,"date":29,"hours":20,"utc":true},{"year":2015,"month":10,"date":29,"hours":22,"utc":true},
{"year":2015,"month":10,"date":30,"hours":0,"utc":true},{"year":2015,"month":10,"date":30,"hours":2,"utc":true},{"year":2015,"month":10,"date":30,"hours":4,"utc":true},{"year":2015,"month":10,"date":30,"hours":6,"utc":true},{"year":2015,"month":10,"date":30,"hours":8,"utc":true},{"year":2015,"month":10,"date":30,"hours":10,"utc":true},{"year":2015,"month":10,"date":30,"hours":12,"utc":true},{"year":2015,"month":10,"date":30,"hours":14,"utc":true},{"year":2015,"month":10,"date":30,"hours":16,"utc":true},{"year":2015,"month":10,"date":30,"hours":18,"utc":true},{"year":2015,"month":10,"date":30,"hours":20,"utc":true},{"year":2015,"month":10,"date":30,"hours":22,"utc":true},
{"year":2015,"month":10,"date":31,"hours":0,"utc":true},{"year":2015,"month":10,"date":31,"hours":2,"utc":true},{"year":2015,"month":10,"date":31,"hours":4,"utc":true},{"year":2015,"month":10,"date":31,"hours":6,"utc":true},{"year":2015,"month":10,"date":31,"hours":8,"utc":true},{"year":2015,"month":10,"date":31,"hours":10,"utc":true},{"year":2015,"month":10,"date":31,"hours":12,"utc":true},{"year":2015,"month":10,"date":31,"hours":14,"utc":true},{"year":2015,"month":10,"date":31,"hours":16,"utc":true},{"year":2015,"month":10,"date":31,"hours":18,"utc":true},{"year":2015,"month":10,"date":31,"hours":20,"utc":true},{"year":2015,"month":10,"date":31,"hours":22,"utc":true},
{"year":2015,"month":11,"date":1,"hours":0,"utc":true},{"year":2015,"month":11,"date":1,"hours":2,"utc":true},{"year":2015,"month":11,"date":1,"hours":4,"utc":true},{"year":2015,"month":11,"date":1,"hours":6,"utc":true},{"year":2015,"month":11,"date":1,"hours":8,"utc":true},{"year":2015,"month":11,"date":1,"hours":10,"utc":true},{"year":2015,"month":11,"date":1,"hours":12,"utc":true},{"year":2015,"month":11,"date":1,"hours":14,"utc":true},{"year":2015,"month":11,"date":1,"hours":16,"utc":true},{"year":2015,"month":11,"date":1,"hours":18,"utc":true},{"year":2015,"month":11,"date":1,"hours":20,"utc":true},{"year":2015,"month":11,"date":1,"hours":22,"utc":true},
{"year":2015,"month":11,"date":2,"hours":0,"utc":true},{"year":2015,"month":11,"date":2,"hours":2,"utc":true},{"year":2015,"month":11,"date":2,"hours":4,"utc":true},{"year":2015,"month":11,"date":2,"hours":6,"utc":true},{"year":2015,"month":11,"date":2,"hours":8,"utc":true},{"year":2015,"month":11,"date":2,"hours":10,"utc":true},{"year":2015,"month":11,"date":2,"hours":12,"utc":true},{"year":2015,"month":11,"date":2,"hours":14,"utc":true},{"year":2015,"month":11,"date":2,"hours":16,"utc":true},{"year":2015,"month":11,"date":2,"hours":18,"utc":true},{"year":2015,"month":11,"date":2,"hours":20,"utc":true}]}},
"y":{"field":"g","type":"quantitative","scale":{"domain":[177.9,273.8],"nice":false,"zero":false},
"axis":{"title":"Fázisfeszültség (V)","titleFontSize":9,"titleFont":"Liberation Sans","titleFontWeight":"normal","titleColor":"#333","titlePadding":6,"values":[180,185,190,195,200,205,210,215,220,225,230,235,240,245,250,255,260,265,270],"tickCount":20,"labelOverlap":false,"labelFontSize":9,"labelFont":"Liberation Sans","labelColor":"#222","tickSize":5,"tickColor":"#000","domainColor":"#000","domainWidth":2,"grid":true,"gridColor":"#dcdcdc","labelPadding":3}}}},
{"mark":{"type":"line","stroke":"#ffaa10","strokeWidth":1,"opacity":0.75},
"encoding":{"x":{"field":"t","type":"temporal","axis":null},"y":{"field":"o","type":"quantitative","axis":null}}},
{"mark":{"type":"line","stroke":"#ff1a1a","strokeWidth":1,"opacity":0.75},
"encoding":{"x":{"field":"t","type":"temporal","axis":null},"y":{"field":"r","type":"quantitative","axis":null}}},
{"data":{"name":"refs"},"mark":{"type":"rule"},
"encoding":{"y":{"field":"v","type":"quantitative","axis":null},
"stroke":{"field":"label","type":"nominal","scale":{"domain":["Un + 15%","Un + 10%","Un + 8%","Un = 230 V","Un - 7%","Un - 10%","Un - 20%"],"range":["#ff3b3b","#b04848","#333333","#4a6a30","#2a2a8a","#b04848","#e03030"]},"legend":null}}},
{"data":{"name":"refs"},"mark":{"type":"text","align":"left","baseline":"bottom","dx":2,"dy":-1,"fontSize":9,"font":"Liberation Sans"},
"encoding":{"x":{"datum":{"year":2015,"month":10,"date":25,"hours":20,"minutes":45,"utc":true},"type":"temporal","axis":null},
"y":{"field":"v","type":"quantitative","axis":null},"text":{"field":"label","type":"nominal"},
"fill":{"field":"label","type":"nominal","scale":{"domain":["Un + 15%","Un + 10%","Un + 8%","Un = 230 V","Un - 7%","Un - 10%","Un - 20%"],"range":["#ff2020","#b03030","#2a2a90","#5a6a10","#2a2a90","#b03a3a","#ff2020"]},"legend":null}}}
]
}
]
}
